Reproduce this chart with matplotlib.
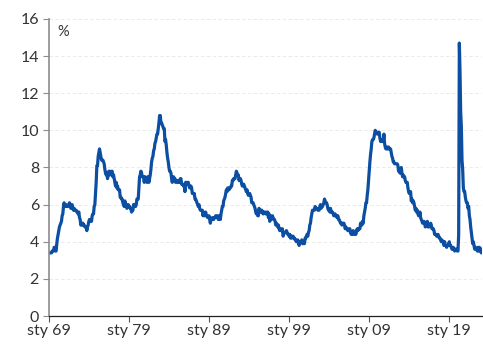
import numpy as np
import matplotlib.pyplot as plt

# monthly unemployment rate, %, Jan 1969 onwards
rate = [
    3.4, 3.4, 3.4, 3.4, 3.4, 3.5, 3.5, 3.5, 3.7, 3.7, 3.5, 3.5,   # 1969
    3.9, 4.2, 4.4, 4.6, 4.8, 4.9, 5.0, 5.1, 5.4, 5.5, 5.9, 6.1,   # 1970
    5.9, 5.9, 6.0, 5.9, 5.9, 5.9, 6.0, 6.1, 6.0, 5.8, 6.0, 6.0,   # 1971
    5.8, 5.7, 5.8, 5.7, 5.7, 5.7, 5.6, 5.6, 5.5, 5.6, 5.3, 5.2,   # 1972
    4.9, 5.0, 4.9, 5.0, 4.9, 4.9, 4.8, 4.8, 4.8, 4.6, 4.8, 4.9,   # 1973
    5.1, 5.2, 5.1, 5.1, 5.1, 5.4, 5.5, 5.5, 5.9, 6.0, 6.6, 7.2,   # 1974
    8.1, 8.1, 8.6, 8.8, 9.0, 8.8, 8.6, 8.4, 8.4, 8.4, 8.3, 8.2,   # 1975
    7.9, 7.7, 7.6, 7.7, 7.4, 7.6, 7.8, 7.8, 7.6, 7.7, 7.8, 7.8,   # 1976
    7.5, 7.6, 7.4, 7.2, 7.0, 7.2, 6.9, 7.0, 6.8, 6.8, 6.8, 6.4,   # 1977
    6.4, 6.3, 6.3, 6.1, 6.0, 5.9, 6.2, 5.9, 6.0, 5.8, 5.9, 6.0,   # 1978
    5.9, 5.9, 5.8, 5.8, 5.6, 5.7, 5.7, 6.0, 5.9, 6.0, 5.9, 6.0,   # 1979
    6.3, 6.3, 6.3, 6.9, 7.5, 7.6, 7.8, 7.7, 7.5, 7.5, 7.5, 7.2,   # 1980
    7.5, 7.4, 7.4, 7.2, 7.5, 7.5, 7.2, 7.4, 7.6, 7.9, 8.3, 8.5,   # 1981
    8.6, 8.9, 9.0, 9.3, 9.4, 9.6, 9.8, 9.8, 10.1, 10.4, 10.8, 10.8,  # 1982
    10.4, 10.4, 10.3, 10.2, 10.1, 10.1, 9.4, 9.5, 9.2, 8.8, 8.5, 8.3,  # 1983
    8.0, 7.8, 7.8, 7.7, 7.4, 7.2, 7.5, 7.5, 7.3, 7.4, 7.2, 7.3,   # 1984
    7.3, 7.2, 7.2, 7.3, 7.2, 7.4, 7.4, 7.1, 7.1, 7.1, 7.0, 7.0,   # 1985
    6.7, 7.2, 7.2, 7.1, 7.2, 7.2, 7.0, 6.9, 7.0, 7.0, 6.9, 6.6,   # 1986
    6.6, 6.6, 6.6, 6.3, 6.3, 6.2, 6.1, 6.0, 5.9, 6.0, 5.8, 5.7,   # 1987
    5.7, 5.7, 5.7, 5.4, 5.6, 5.4, 5.4, 5.6, 5.4, 5.4, 5.3, 5.3,   # 1988
    5.4, 5.2, 5.0, 5.2, 5.2, 5.3, 5.2, 5.2, 5.3, 5.3, 5.4, 5.4,   # 1989
    5.4, 5.3, 5.2, 5.4, 5.4, 5.2, 5.5, 5.7, 5.9, 5.9, 6.2, 6.3,   # 1990
    6.4, 6.6, 6.8, 6.7, 6.9, 6.9, 6.8, 6.9, 6.9, 7.0, 7.0, 7.3,   # 1991
    7.3, 7.4, 7.4, 7.4, 7.6, 7.8, 7.7, 7.6, 7.6, 7.3, 7.4, 7.4,   # 1992
    7.3, 7.1, 7.0, 7.1, 7.1, 7.0, 6.9, 6.8, 6.7, 6.8, 6.6, 6.5,   # 1993
    6.6, 6.6, 6.5, 6.4, 6.1, 6.1, 6.1, 6.0, 5.9, 5.8, 5.6, 5.5,   # 1994
    5.6, 5.4, 5.4, 5.8, 5.6, 5.6, 5.7, 5.7, 5.6, 5.5, 5.6, 5.6,   # 1995
    5.6, 5.5, 5.5, 5.6, 5.6, 5.3, 5.5, 5.1, 5.2, 5.2, 5.4, 5.4,   # 1996
    5.3, 5.2, 5.2, 5.1, 4.9, 5.0, 4.9, 4.8, 4.9, 4.7, 4.6, 4.7,   # 1997
    4.6, 4.6, 4.7, 4.3, 4.4, 4.5, 4.5, 4.5, 4.6, 4.5, 4.4, 4.4,   # 1998
    4.3, 4.4, 4.2, 4.3, 4.2, 4.3, 4.3, 4.2, 4.2, 4.1, 4.1, 4.0,   # 1999
    4.0, 4.1, 4.0, 3.8, 4.0, 4.0, 4.0, 4.1, 3.9, 3.9, 3.9, 3.9,   # 2000
    4.2, 4.2, 4.3, 4.4, 4.3, 4.5, 4.6, 4.9, 5.0, 5.3, 5.5, 5.7,   # 2001
    5.7, 5.7, 5.7, 5.9, 5.8, 5.8, 5.8, 5.7, 5.7, 5.7, 5.9, 6.0,   # 2002
    5.8, 5.9, 5.9, 6.0, 6.1, 6.3, 6.2, 6.1, 6.1, 6.0, 5.8, 5.7,   # 2003
    5.7, 5.6, 5.8, 5.6, 5.6, 5.6, 5.5, 5.4, 5.4, 5.5, 5.4, 5.4,   # 2004
    5.3, 5.4, 5.2, 5.2, 5.1, 5.0, 5.0, 4.9, 5.0, 5.0, 5.0, 4.9,   # 2005
    4.7, 4.8, 4.7, 4.7, 4.6, 4.6, 4.7, 4.7, 4.5, 4.4, 4.5, 4.4,   # 2006
    4.6, 4.5, 4.4, 4.5, 4.4, 4.6, 4.7, 4.6, 4.7, 4.7, 4.7, 5.0,   # 2007
    5.0, 4.9, 5.1, 5.0, 5.4, 5.6, 5.8, 6.1, 6.1, 6.5, 6.8, 7.3,   # 2008
    7.8, 8.3, 8.7, 9.0, 9.4, 9.5, 9.5, 9.6, 9.8, 10.0, 9.9, 9.9,  # 2009
    9.8, 9.8, 9.9, 9.9, 9.6, 9.4, 9.4, 9.5, 9.5, 9.4, 9.8, 9.3,   # 2010
    9.1, 9.0, 9.0, 9.1, 9.0, 9.1, 9.0, 9.0, 9.0, 8.8, 8.6, 8.5,   # 2011
    8.3, 8.3, 8.2, 8.2, 8.2, 8.2, 8.2, 8.1, 7.8, 7.8, 7.7, 7.9,   # 2012
    8.0, 7.7, 7.5, 7.6, 7.5, 7.5, 7.3, 7.2, 7.2, 7.2, 6.9, 6.7,   # 2013
    6.6, 6.7, 6.7, 6.2, 6.3, 6.1, 6.2, 6.1, 5.9, 5.7, 5.8, 5.6,   # 2014
    5.7, 5.5, 5.4, 5.4, 5.6, 5.3, 5.2, 5.1, 5.0, 5.0, 5.1, 5.0,   # 2015
    4.8, 4.9, 5.0, 5.1, 4.8, 4.9, 4.8, 4.9, 5.0, 4.9, 4.7, 4.7,   # 2016
    4.7, 4.6, 4.4, 4.4, 4.4, 4.3, 4.3, 4.4, 4.3, 4.2, 4.2, 4.1,   # 2017
    4.0, 4.1, 4.0, 4.0, 3.8, 4.0, 3.8, 3.8, 3.7, 3.8, 3.8, 3.9,   # 2018
    4.0, 3.8, 3.8, 3.7, 3.6, 3.6, 3.7, 3.6, 3.5, 3.6, 3.6, 3.6,   # 2019
    3.5, 3.5, 4.4, 14.7, 13.2, 11.0, 10.2, 8.4, 7.9, 6.9, 6.7, 6.7,  # 2020
    6.4, 6.2, 6.1, 6.1, 5.8, 5.9, 5.4, 5.2, 4.8, 4.5, 4.2, 3.9,   # 2021
    4.0, 3.8, 3.6, 3.7, 3.6, 3.6, 3.5, 3.7, 3.5, 3.7, 3.6, 3.5,   # 2022
    3.4, 3.6,                                                      # 2023
]
start_year = 1969
tick_years = [1969, 1979, 1989, 1999, 2009, 2019]
tick_labels = ["sty 69", "sty 79", "sty 89", "sty 99", "sty 09", "sty 19"]

t = start_year + np.arange(len(rate)) / 12.0

plt.rcParams['font.family'] = ['Lato', 'DejaVu Sans']
fig = plt.figure(figsize=(4.83, 3.45), dpi=100)
ax = fig.add_axes([0.101, 0.084, 0.897, 0.861])

ax.plot(t, rate, color="#0b4ea2", lw=2.3, solid_joinstyle="round")

ax.set_xlim(start_year, t[-1])
ax.set_ylim(0, 16)
ax.set_yticks(range(0, 17, 2))
ax.set_xticks(tick_years)
ax.set_xticklabels(tick_labels)
ax.yaxis.grid(True, color="#e6e6e6", lw=0.6, ls=(0, (4, 3)))
ax.set_axisbelow(True)

for s in ["top", "right"]:
    ax.spines[s].set_visible(False)
ax.spines["left"].set_color("#8c8c8c")
ax.spines["left"].set_linewidth(1.2)
ax.spines["bottom"].set_color("#222222")
ax.spines["bottom"].set_linewidth(0.9)
ax.tick_params(axis="y", length=4, color="#8c8c8c", labelsize=11.5,
               labelcolor="#333333", pad=3)
ax.tick_params(axis="x", length=4, color="#555555", labelsize=11.5,
               labelcolor="#333333", pad=2)

ax.text(1970.1, 15.1, "%", fontsize=10.5, color="#333333")

fig.savefig("out.png", dpi=100)
